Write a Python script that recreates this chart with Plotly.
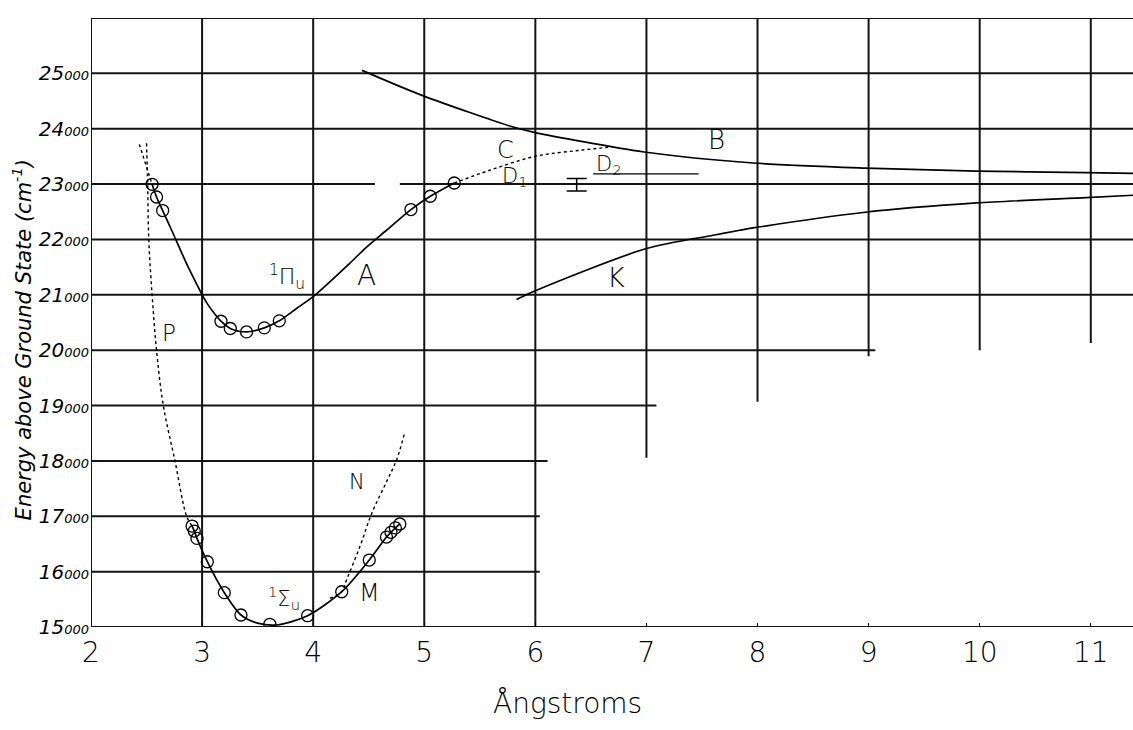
import plotly.graph_objects as go

# ---------------- data ----------------
# Upper state 1Πu (curve A), solid line
a_x = [2.55, 2.59, 2.645, 2.726, 2.86, 2.94, 3.0, 3.06, 3.12, 3.17, 3.254, 3.40, 3.56, 3.695,
       3.85, 4.02, 4.33, 4.466, 4.66, 4.88, 5.054, 5.27]
a_y = [22996, 22767, 22522, 22166, 21565, 21240, 21000, 20800, 20640, 20523, 20392, 20330, 20403, 20530,
       20753, 21000, 21570, 21836, 22166, 22540, 22780, 23020]
# observed points on A
a_pts_x = [2.55, 2.59, 2.645, 3.17, 3.254, 3.40, 3.56, 3.695, 4.88, 5.054, 5.27]
a_pts_y = [22996, 22767, 22522, 20523, 20392, 20330, 20403, 20530, 22540, 22780, 23020]
# dotted extension of A at small r
a_ext_x = [2.435, 2.55]
a_ext_y = [23718, 22996]
# curve C (dotted continuation of A)
c_x = [5.27, 5.59, 6.0, 6.40, 6.70]
c_y = [23020, 23250, 23502, 23610, 23675]
# curve B
b_x = [4.44, 4.98, 5.8, 5.98, 6.98, 7.96, 8.97, 9.97, 10.96, 11.38]
b_y = [25054, 24603, 24031, 23940, 23580, 23381, 23290, 23236, 23207, 23195]
# curve K
k_x = [5.83, 5.99, 7.0, 7.6, 7.84, 7.96, 8.97, 9.97, 10.96, 11.38]
k_y = [20915, 21065, 21836, 22076, 22166, 22208, 22491, 22659, 22756, 22798]
# curve P (dotted)
p_x = [2.50, 2.51, 2.52, 2.55, 2.59, 2.651, 2.756, 2.861, 2.91]
p_y = [23736, 23000, 22000, 21000, 20000, 19000, 18000, 17000, 16823]
# lower state 1Σu (curve M), solid line
m_x = [2.91, 2.93, 2.954, 3.047, 3.2, 3.35, 3.5, 3.67, 3.95, 4.257, 4.505, 4.66, 4.70, 4.74, 4.78]
m_y = [16823, 16733, 16600, 16179, 15620, 15217, 15070, 15036, 15204, 15637, 16209, 16625, 16710, 16790, 16860]
m_pts_x = [2.91, 2.93, 2.954, 3.047, 3.2, 3.35, 3.61, 3.95, 4.257, 4.505, 4.66, 4.70, 4.74, 4.78]
m_pts_y = [16823, 16733, 16600, 16179, 15620, 15217, 15049, 15204, 15637, 16209, 16625, 16710, 16790, 16860]
# curve N (dotted)
n_x = [4.15, 4.257, 4.30, 4.42, 4.527, 4.66, 4.75, 4.82]
n_y = [15518, 15637, 15848, 16450, 17052, 17622, 18014, 18484]
# dissociation level D2 and the bracket (error bar)
d2_x = [6.52, 7.47]
d2_y = [23185, 23185]
bar_x = [6.372]
bar_y = [22988]
bar_err = [112]

# ticks
x_ticks = [2, 3, 4, 5, 6, 7, 8, 9, 10, 11]
x_ticktext = ["2", "3", "4", "5", "6", "7", "8", "9", "10", "11"]
y_ticks = [15000, 16000, 17000, 18000, 19000, 20000, 21000, 22000, 23000, 24000, 25000]
y_major = ["15", "16", "17", "18", "19", "20", "21", "22", "23", "24", "25"]

# curve labels
labels = [
    ("A", 4.48, 21354, 28), ("<sup>1</sup>Π<sub>u</sub>", 3.76, 21318, 22),
    ("P", 2.70, 20307, 23), ("B", 7.63, 23790, 26), ("C", 5.73, 23610, 24),
    ("D<sub>1</sub>", 5.82, 23120, 21), ("D<sub>2</sub>", 6.66, 23340, 21),
    ("K", 6.73, 21318, 27), ("N", 4.39, 17623, 21), ("M", 4.51, 15608, 24),
    ("<sup>1</sup>Σ<sub>u</sub>", 3.74, 15518, 21),
]

# ---------------- layout of the hand-drawn grid ----------------
XMAX = 11.38
h_grid = [(26000, 2, XMAX), (25000, 2, XMAX), (24000, 2, XMAX), (23000, 2, 4.556),
          (23000, 4.78, XMAX), (22000, 2, XMAX), (21000, 2, XMAX), (20000, 2, 9.06),
          (19000, 2, 7.09), (18000, 2, 6.11), (17000, 2, 6.04), (16000, 2, 6.04),
          (15000, 2, XMAX)]
v_grid = [(2, 15000, 26000), (3, 15000, 26000), (4, 15000, 26000), (5, 15000, 26000),
          (6, 15000, 26000), (7, 18056, 26000), (8, 19070, 26000), (9, 19892, 26000),
          (10, 20000, 26000), (11, 20130, 26000)]

INK = "#000000"
FONT = "DejaVu Sans"

fig = go.Figure()

shapes = []
for y, x0, x1 in h_grid:
    shapes.append(dict(type="line", xref="x", yref="y", x0=x0, x1=x1, y0=y, y1=y,
                       line=dict(color="#141414", width=2), layer="below"))
for x, y0, y1 in v_grid:
    shapes.append(dict(type="line", xref="x", yref="y", x0=x, x1=x, y0=y0, y1=y1,
                       line=dict(color="#141414", width=2), layer="below"))

solid = dict(color=INK, width=1.7)
dotted = dict(color=INK, width=1.4, dash="dot")

fig.add_trace(go.Scatter(x=a_x, y=a_y, mode="lines", line=dict(**solid, shape="spline", smoothing=0.8)))
fig.add_trace(go.Scatter(x=a_ext_x, y=a_ext_y, mode="lines", line=dotted))
fig.add_trace(go.Scatter(x=c_x, y=c_y, mode="lines", line=dict(**dotted, shape="spline")))
fig.add_trace(go.Scatter(x=b_x, y=b_y, mode="lines", line=dict(**solid, shape="spline", smoothing=0.8)))
fig.add_trace(go.Scatter(x=k_x, y=k_y, mode="lines", line=dict(**solid, shape="spline", smoothing=0.8)))
fig.add_trace(go.Scatter(x=p_x, y=p_y, mode="lines", line=dict(**dotted, shape="spline")))
fig.add_trace(go.Scatter(x=m_x, y=m_y, mode="lines", line=dict(**solid, shape="spline", smoothing=0.8)))
fig.add_trace(go.Scatter(x=n_x, y=n_y, mode="lines", line=dict(**dotted, shape="spline")))
fig.add_trace(go.Scatter(x=d2_x, y=d2_y, mode="lines", line=dict(color=INK, width=1.4)))
fig.add_trace(go.Scatter(x=bar_x, y=bar_y, mode="markers", marker=dict(size=1, color=INK),
                         error_y=dict(type="data", array=bar_err, visible=True,
                                      color=INK, thickness=1.5, width=10)))
circle = dict(symbol="circle-open", size=12, color=INK, line=dict(width=1.3, color=INK))
fig.add_trace(go.Scatter(x=a_pts_x, y=a_pts_y, mode="markers", marker=circle, cliponaxis=True))
fig.add_trace(go.Scatter(x=m_pts_x, y=m_pts_y, mode="markers", marker=circle, cliponaxis=True))

annotations = []
for text, x, y, size in labels:
    annotations.append(dict(text=text, x=x, y=y, xref="x", yref="y", showarrow=False,
                            font=dict(family=FONT, size=size, color=INK, weight=200)))
annotations.append(dict(text="<i>Energy above Ground State (cm<sup>-1</sup>)</i>",
                        x=-0.066, y=0.471, xref="paper", yref="paper", showarrow=False,
                        xanchor="center", yanchor="middle",
                        textangle=-90, font=dict(family=FONT, size=21, color=INK, weight=200)))
annotations.append(dict(text="Ångstroms", x=0.457, y=-0.125, xref="paper", yref="paper",
                        xanchor="center", yanchor="middle",
                        showarrow=False, font=dict(family=FONT, size=28, color=INK, weight=200)))

y_ticktext = ["<i>%s<span style='font-size:13px'>000</span></i>" % m for m in y_major]

fig.update_layout(
    width=1133, height=730,
    margin=dict(l=91, r=0, t=18, b=103, autoexpand=False),
    paper_bgcolor="white", plot_bgcolor="white",
    showlegend=False,
    shapes=shapes,
    annotations=annotations,
    xaxis=dict(range=[2, XMAX], tickvals=x_ticks, ticktext=x_ticktext, showgrid=False,
               zeroline=False, showline=False, ticks="inside", ticklen=4, tickcolor=INK,
               tickwidth=1, ticklabelstandoff=6, automargin=False,
               tickfont=dict(family=FONT, size=28, color=INK, weight=200)),
    yaxis=dict(range=[15000, 26000], tickvals=y_ticks, ticktext=y_ticktext, showgrid=False,
               zeroline=False, showline=False, ticks="", ticklabelstandoff=1, automargin=False,
               tickfont=dict(family=FONT, size=20, color=INK, weight=200)),
)

fig.write_html("out.html", config={"displayModeBar": False},
               post_script="document.body.style.margin='0';document.body.style.padding='0';")
